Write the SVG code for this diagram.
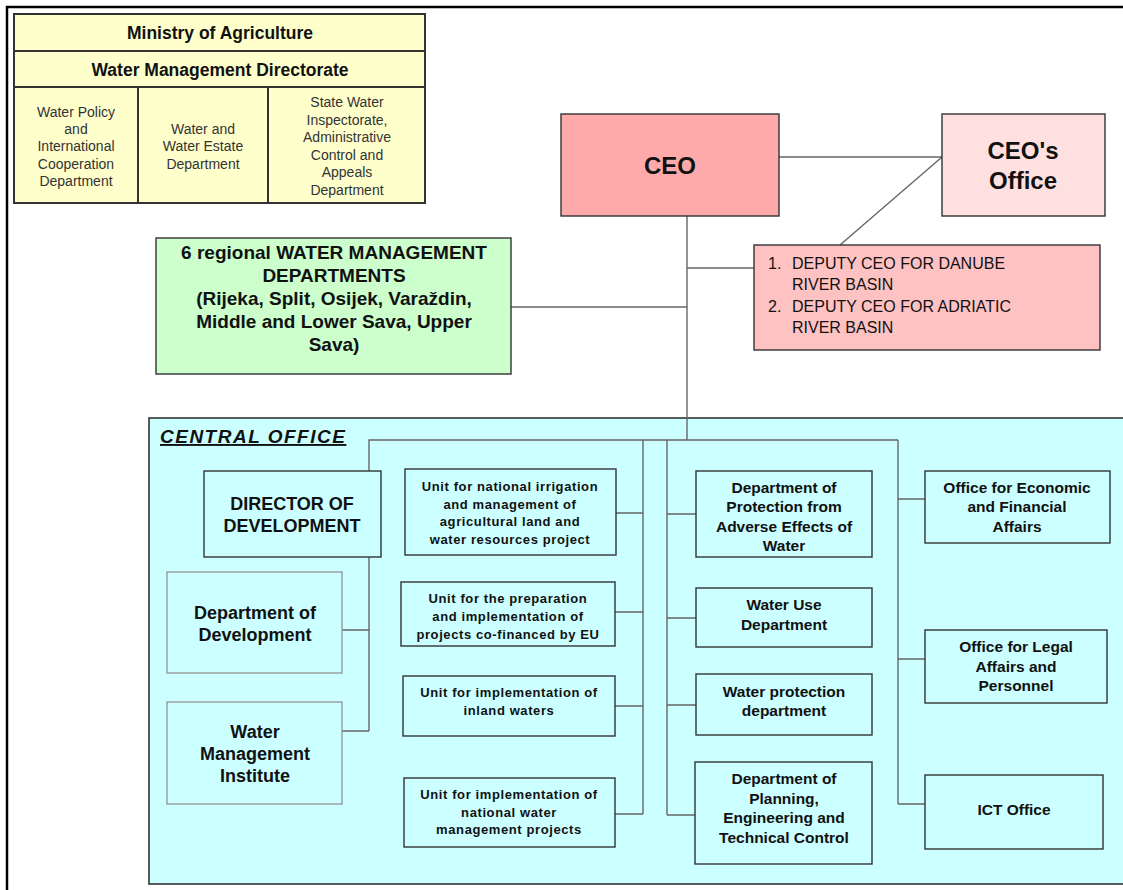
<svg xmlns="http://www.w3.org/2000/svg" width="1123" height="890" viewBox="0 0 1123 890">
  <style>
    text { font-family: "Liberation Sans", Arial, sans-serif; fill: #111; text-anchor: middle; }
    .box { stroke: #333; stroke-width: 1.4; }
    .soft { stroke: #999; stroke-width: 1.4; fill: none; }
    .link { stroke: #666; stroke-width: 1.4; fill: none; }
    .frame { stroke: #000; stroke-width: 2.5; fill: none; }
    .hdr { font-size: 17.5px; font-weight: bold; }
    .col { font-size: 14px; fill: #333; }
    .ceo { font-size: 24px; font-weight: bold; }
    .dep { font-size: 16px; text-anchor: start; }
    .reg { font-size: 19px; font-weight: bold; }
    .big { font-size: 18px; font-weight: bold; }
    .unit { font-size: 13px; font-weight: bold; letter-spacing: 0.6px; }
    .dept { font-size: 15.5px; font-weight: bold; }
  </style>

  <rect width="1123" height="890" fill="#fff"/>
  <!-- page frame -->
  <path class="frame" d="M7,890 V7 H1123"/>

  <!-- Ministry of Agriculture table -->
  <g id="ministry">
    <rect x="14" y="14" width="411" height="189" fill="#FFFFCC" stroke="#333" stroke-width="2"/>
    <path d="M14,51 H425 M14,87 H425 M138,87 V203 M268,87 V203" stroke="#333" stroke-width="2" fill="none"/>
    <text class="hdr" x="220" y="39">Ministry of Agriculture</text>
    <text class="hdr" x="220" y="76">Water Management Directorate</text>
    <text class="col" x="76"><tspan x="76" y="117">Water Policy</tspan><tspan x="76" y="134">and</tspan><tspan x="76" y="151">International</tspan><tspan x="76" y="169">Cooperation</tspan><tspan x="76" y="186">Department</tspan></text>
    <text class="col" x="203"><tspan x="203" y="134">Water and</tspan><tspan x="203" y="151">Water Estate</tspan><tspan x="203" y="169">Department</tspan></text>
    <text class="col" x="347"><tspan x="347" y="107">State Water</tspan><tspan x="347" y="125">Inspectorate,</tspan><tspan x="347" y="142">Administrative</tspan><tspan x="347" y="160">Control and</tspan><tspan x="347" y="177">Appeals</tspan><tspan x="347" y="195">Department</tspan></text>
  </g>

  <!-- central office container -->
  <g id="central-office">
    <rect x="149" y="418" width="990" height="466" fill="#CCFFFF" stroke="#333" stroke-width="1.6"/>
    <text x="160" y="443" style="font-size:19px;font-weight:bold;font-style:italic;text-anchor:start;text-decoration:underline;letter-spacing:1.5px">CENTRAL OFFICE</text>
  </g>

  <!-- connectors -->
  <g id="connectors" class="link">
    <path d="M779,157 H942"/>
    <path d="M942,157 L840,245"/>
    <path d="M687,216 V440"/>
    <path d="M687,268 H754"/>
    <path d="M511,307 H687"/>
    <path d="M369,471 V440 H898"/>
    <path d="M643,440 V814"/>
    <path d="M616,513 H643 M615,612 H643 M615,706 H643 M615,814 H643"/>
    <path d="M667,440 V815"/>
    <path d="M667,514 H696 M667,618 H696 M667,705 H696 M667,815 H695"/>
    <path d="M898,440 V804"/>
    <path d="M898,499 H925 M898,659 H925 M898,804 H925"/>
    <path d="M369,557 V731 M342,630 H369 M342,731 H369"/>
  </g>

  <g id="ceo">
    <rect class="box" x="561" y="114" width="218" height="102" fill="#FFAAAA"/>
    <text class="ceo" x="670" y="174">CEO</text>
  </g>

  <g id="ceo-office">
    <rect class="box" x="942" y="114" width="163" height="102" fill="#FFE0E0"/>
    <text class="ceo" x="1023"><tspan x="1023" y="159">CEO's</tspan><tspan x="1023" y="189">Office</tspan></text>
  </g>

  <g id="deputies">
    <rect class="box" x="754" y="245" width="346" height="105" fill="#FFC2C2"/>
    <text class="dep" x="768" y="269">1.</text>
    <text class="dep" x="792" y="269">DEPUTY CEO FOR DANUBE</text>
    <text class="dep" x="792" y="290">RIVER BASIN</text>
    <text class="dep" x="768" y="312">2.</text>
    <text class="dep" x="792" y="312">DEPUTY CEO FOR ADRIATIC</text>
    <text class="dep" x="792" y="333">RIVER BASIN</text>
  </g>

  <g id="regional">
    <rect class="box" x="156" y="238" width="355" height="136" fill="#CCFFCC"/>
    <text class="reg" x="334"><tspan x="334" y="259">6 regional WATER MANAGEMENT</tspan><tspan x="334" y="282">DEPARTMENTS</tspan><tspan x="334" y="305">(Rijeka, Split, Osijek, Varaždin,</tspan><tspan x="334" y="328">Middle and Lower Sava, Upper</tspan><tspan x="334" y="351">Sava)</tspan></text>
  </g>

  <g id="director">
    <rect class="box" x="204" y="471" width="177" height="86" fill="#CCFFFF"/>
    <text class="big" x="292"><tspan x="292" y="510">DIRECTOR OF</tspan><tspan x="292" y="532">DEVELOPMENT</tspan></text>
  </g>

  <g id="dept-development">
    <rect class="soft" x="167" y="572" width="175" height="101"/>
    <text class="big" x="255"><tspan x="255" y="619">Department of</tspan><tspan x="255" y="641">Development</tspan></text>
  </g>

  <g id="water-institute">
    <rect class="soft" x="167" y="702" width="175" height="102"/>
    <text class="big" x="255"><tspan x="255" y="738">Water</tspan><tspan x="255" y="760">Management</tspan><tspan x="255" y="782">Institute</tspan></text>
  </g>

  <g id="unit-irrigation">
    <rect class="box" x="405" y="469" width="211" height="86" fill="#CCFFFF"/>
    <text class="unit" x="510"><tspan x="510" y="491">Unit for national irrigation</tspan><tspan x="510" y="509">and management of</tspan><tspan x="510" y="526">agricultural land and</tspan><tspan x="510" y="544">water resources project</tspan></text>
  </g>

  <g id="unit-eu">
    <rect class="box" x="401" y="582" width="214" height="64" fill="#CCFFFF"/>
    <text class="unit" x="508"><tspan x="508" y="603">Unit for the preparation</tspan><tspan x="508" y="621">and implementation of</tspan><tspan x="508" y="639">projects co-financed by EU</tspan></text>
  </g>

  <g id="unit-inland">
    <rect class="box" x="403" y="676" width="212" height="60" fill="#CCFFFF"/>
    <text class="unit" x="509"><tspan x="509" y="697">Unit for implementation of</tspan><tspan x="509" y="715">inland waters</tspan></text>
  </g>

  <g id="unit-national">
    <rect class="box" x="404" y="778" width="211" height="69" fill="#CCFFFF"/>
    <text class="unit" x="509"><tspan x="509" y="799">Unit for implementation of</tspan><tspan x="509" y="817">national water</tspan><tspan x="509" y="834">management projects</tspan></text>
  </g>

  <g id="dept-protection">
    <rect class="box" x="696" y="471" width="176" height="86" fill="#CCFFFF"/>
    <text class="dept" x="784"><tspan x="784" y="493">Department of</tspan><tspan x="784" y="512">Protection from</tspan><tspan x="784" y="532">Adverse Effects of</tspan><tspan x="784" y="551">Water</tspan></text>
  </g>

  <g id="dept-water-use">
    <rect class="box" x="696" y="588" width="176" height="59" fill="#CCFFFF"/>
    <text class="dept" x="784"><tspan x="784" y="610">Water Use</tspan><tspan x="784" y="630">Department</tspan></text>
  </g>

  <g id="dept-water-protection">
    <rect class="box" x="696" y="674" width="176" height="61" fill="#CCFFFF"/>
    <text class="dept" x="784"><tspan x="784" y="697">Water protection</tspan><tspan x="784" y="716">department</tspan></text>
  </g>

  <g id="dept-planning">
    <rect class="box" x="695" y="762" width="177" height="102" fill="#CCFFFF"/>
    <text class="dept" x="784"><tspan x="784" y="784">Department of</tspan><tspan x="784" y="804">Planning,</tspan><tspan x="784" y="823">Engineering and</tspan><tspan x="784" y="843">Technical Control</tspan></text>
  </g>

  <g id="office-economic">
    <rect class="box" x="925" y="471" width="185" height="72" fill="#CCFFFF"/>
    <text class="dept" x="1017"><tspan x="1017" y="493">Office for Economic</tspan><tspan x="1017" y="512">and Financial</tspan><tspan x="1017" y="532">Affairs</tspan></text>
  </g>

  <g id="office-legal">
    <rect class="box" x="925" y="630" width="182" height="73" fill="#CCFFFF"/>
    <text class="dept" x="1016"><tspan x="1016" y="652">Office for Legal</tspan><tspan x="1016" y="672">Affairs and</tspan><tspan x="1016" y="691">Personnel</tspan></text>
  </g>

  <g id="office-ict">
    <rect class="box" x="925" y="775" width="178" height="74" fill="#CCFFFF"/>
    <text class="dept" x="1014" y="815">ICT Office</text>
  </g>
</svg>
